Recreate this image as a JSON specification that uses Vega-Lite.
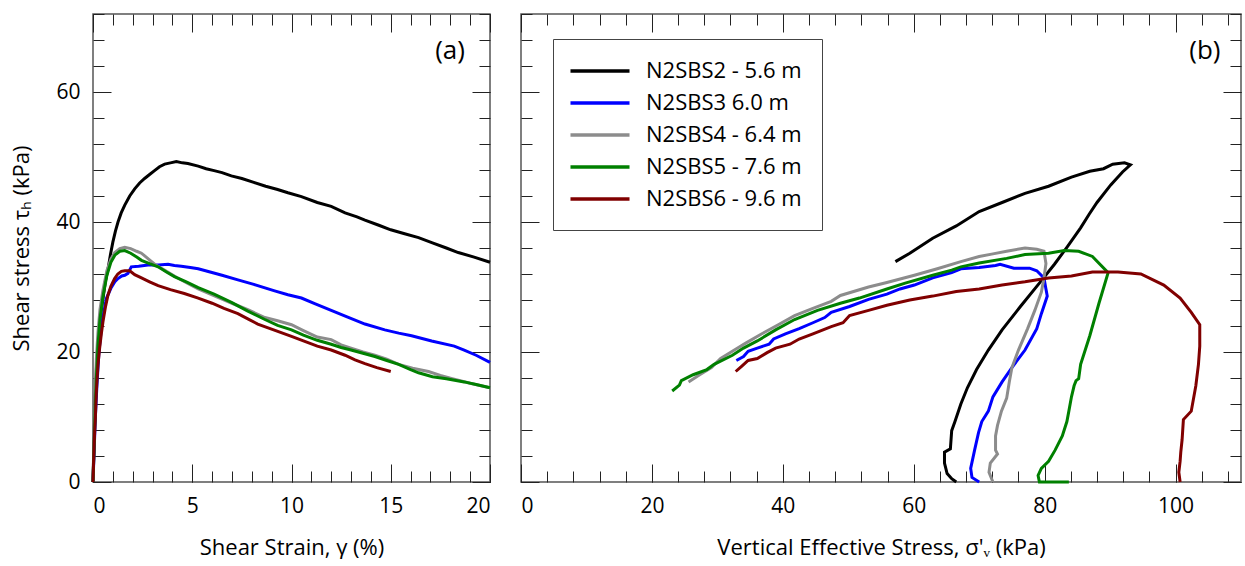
{
"$schema":"https://vega.github.io/schema/vega-lite/v6.json",
"background":"white",
"padding":{"left":10,"top":12,"right":0,"bottom":0},
"bounds":"flush",
"spacing":31,
"config":{
 "font":"Open Sans",
 "view":{"stroke":"#555","strokeWidth":1.5},
 "axis":{"domain":false,"grid":false,"tickColor":"#222","tickWidth":1,"labelFontSize":21,"labelColor":"black","titleFontSize":22,"titleFontWeight":"normal","titleColor":"black","labelFont":"Open Sans","titleFont":"Open Sans"},
 "title":{"fontSize":26,"fontWeight":"normal","font":"Open Sans","color":"black"}
},
"resolve":{"legend":{"color":"independent"}},
"datasets":{
"strain":[
{"s":"N2SBS2 - 5.6 m","i":0,"x":0,"y":0},{"s":"N2SBS2 - 5.6 m","i":1,"x":0.05,"y":6},{"s":"N2SBS2 - 5.6 m","i":2,"x":0.1,"y":12},{"s":"N2SBS2 - 5.6 m","i":3,"x":0.18,"y":18},{"s":"N2SBS2 - 5.6 m","i":4,"x":0.25,"y":21.5},{"s":"N2SBS2 - 5.6 m","i":5,"x":0.35,"y":25},{"s":"N2SBS2 - 5.6 m","i":6,"x":0.5,"y":28.2},{"s":"N2SBS2 - 5.6 m","i":7,"x":0.62,"y":30.8},{"s":"N2SBS2 - 5.6 m","i":8,"x":0.76,"y":32.8},{"s":"N2SBS2 - 5.6 m","i":9,"x":0.88,"y":35},{"s":"N2SBS2 - 5.6 m","i":10,"x":1.0,"y":36.9},{"s":"N2SBS2 - 5.6 m","i":11,"x":1.13,"y":38.6},{"s":"N2SBS2 - 5.6 m","i":12,"x":1.26,"y":40},{"s":"N2SBS2 - 5.6 m","i":13,"x":1.42,"y":41.4},{"s":"N2SBS2 - 5.6 m","i":14,"x":1.6,"y":42.6},{"s":"N2SBS2 - 5.6 m","i":15,"x":1.85,"y":44},{"s":"N2SBS2 - 5.6 m","i":16,"x":2.1,"y":45.1},{"s":"N2SBS2 - 5.6 m","i":17,"x":2.35,"y":46},{"s":"N2SBS2 - 5.6 m","i":18,"x":2.6,"y":46.7},{"s":"N2SBS2 - 5.6 m","i":19,"x":2.85,"y":47.3},{"s":"N2SBS2 - 5.6 m","i":20,"x":3.1,"y":47.9},{"s":"N2SBS2 - 5.6 m","i":21,"x":3.35,"y":48.5},{"s":"N2SBS2 - 5.6 m","i":22,"x":3.61,"y":48.9},{"s":"N2SBS2 - 5.6 m","i":23,"x":3.9,"y":49.1},{"s":"N2SBS2 - 5.6 m","i":24,"x":4.2,"y":49.3},{"s":"N2SBS2 - 5.6 m","i":25,"x":4.5,"y":49.1},{"s":"N2SBS2 - 5.6 m","i":26,"x":4.78,"y":49.0},{"s":"N2SBS2 - 5.6 m","i":27,"x":5.3,"y":48.6},{"s":"N2SBS2 - 5.6 m","i":28,"x":5.7,"y":48.2},{"s":"N2SBS2 - 5.6 m","i":29,"x":6.1,"y":47.9},{"s":"N2SBS2 - 5.6 m","i":30,"x":6.5,"y":47.6},{"s":"N2SBS2 - 5.6 m","i":31,"x":6.97,"y":47.1},{"s":"N2SBS2 - 5.6 m","i":32,"x":7.5,"y":46.7},{"s":"N2SBS2 - 5.6 m","i":33,"x":8.1,"y":46.1},{"s":"N2SBS2 - 5.6 m","i":34,"x":8.7,"y":45.5},{"s":"N2SBS2 - 5.6 m","i":35,"x":9.3,"y":45.0},{"s":"N2SBS2 - 5.6 m","i":36,"x":9.82,"y":44.5},{"s":"N2SBS2 - 5.6 m","i":37,"x":10.5,"y":43.9},{"s":"N2SBS2 - 5.6 m","i":38,"x":11.3,"y":43.0},{"s":"N2SBS2 - 5.6 m","i":39,"x":12.0,"y":42.4},{"s":"N2SBS2 - 5.6 m","i":40,"x":12.7,"y":41.4},{"s":"N2SBS2 - 5.6 m","i":41,"x":13.3,"y":40.8},{"s":"N2SBS2 - 5.6 m","i":42,"x":13.7,"y":40.3},{"s":"N2SBS2 - 5.6 m","i":43,"x":14.4,"y":39.5},{"s":"N2SBS2 - 5.6 m","i":44,"x":15.0,"y":38.8},{"s":"N2SBS2 - 5.6 m","i":45,"x":15.7,"y":38.2},{"s":"N2SBS2 - 5.6 m","i":46,"x":16.4,"y":37.6},{"s":"N2SBS2 - 5.6 m","i":47,"x":17.1,"y":36.8},{"s":"N2SBS2 - 5.6 m","i":48,"x":17.8,"y":36.0},{"s":"N2SBS2 - 5.6 m","i":49,"x":18.4,"y":35.3},{"s":"N2SBS2 - 5.6 m","i":50,"x":19.2,"y":34.6},{"s":"N2SBS2 - 5.6 m","i":51,"x":20,"y":33.8},
{"s":"N2SBS3 6.0 m","i":0,"x":0,"y":0},{"s":"N2SBS3 6.0 m","i":1,"x":0.06,"y":5},{"s":"N2SBS3 6.0 m","i":2,"x":0.12,"y":10},{"s":"N2SBS3 6.0 m","i":3,"x":0.2,"y":15},{"s":"N2SBS3 6.0 m","i":4,"x":0.3,"y":20},{"s":"N2SBS3 6.0 m","i":5,"x":0.45,"y":24.5},{"s":"N2SBS3 6.0 m","i":6,"x":0.67,"y":28.2},{"s":"N2SBS3 6.0 m","i":7,"x":0.9,"y":29.8},{"s":"N2SBS3 6.0 m","i":8,"x":1.1,"y":30.8},{"s":"N2SBS3 6.0 m","i":9,"x":1.26,"y":31.3},{"s":"N2SBS3 6.0 m","i":10,"x":1.45,"y":31.7},{"s":"N2SBS3 6.0 m","i":11,"x":1.6,"y":31.8},{"s":"N2SBS3 6.0 m","i":12,"x":1.76,"y":32.1},{"s":"N2SBS3 6.0 m","i":13,"x":1.93,"y":33.1},{"s":"N2SBS3 6.0 m","i":14,"x":2.3,"y":33.2},{"s":"N2SBS3 6.0 m","i":15,"x":2.77,"y":33.4},{"s":"N2SBS3 6.0 m","i":16,"x":3.3,"y":33.4},{"s":"N2SBS3 6.0 m","i":17,"x":3.78,"y":33.5},{"s":"N2SBS3 6.0 m","i":18,"x":4.1,"y":33.3},{"s":"N2SBS3 6.0 m","i":19,"x":4.45,"y":33.2},{"s":"N2SBS3 6.0 m","i":20,"x":4.9,"y":33.0},{"s":"N2SBS3 6.0 m","i":21,"x":5.3,"y":32.8},{"s":"N2SBS3 6.0 m","i":22,"x":5.9,"y":32.3},{"s":"N2SBS3 6.0 m","i":23,"x":6.5,"y":31.8},{"s":"N2SBS3 6.0 m","i":24,"x":7.3,"y":31.1},{"s":"N2SBS3 6.0 m","i":25,"x":8.1,"y":30.4},{"s":"N2SBS3 6.0 m","i":26,"x":9.15,"y":29.4},{"s":"N2SBS3 6.0 m","i":27,"x":9.82,"y":28.8},{"s":"N2SBS3 6.0 m","i":28,"x":10.5,"y":28.3},{"s":"N2SBS3 6.0 m","i":29,"x":11.2,"y":27.4},{"s":"N2SBS3 6.0 m","i":30,"x":12.0,"y":26.4},{"s":"N2SBS3 6.0 m","i":31,"x":12.8,"y":25.4},{"s":"N2SBS3 6.0 m","i":32,"x":13.7,"y":24.3},{"s":"N2SBS3 6.0 m","i":33,"x":14.7,"y":23.4},{"s":"N2SBS3 6.0 m","i":34,"x":15.4,"y":22.9},{"s":"N2SBS3 6.0 m","i":35,"x":16.05,"y":22.5},{"s":"N2SBS3 6.0 m","i":36,"x":17.06,"y":21.7},{"s":"N2SBS3 6.0 m","i":37,"x":18.2,"y":20.9},{"s":"N2SBS3 6.0 m","i":38,"x":18.7,"y":20.3},{"s":"N2SBS3 6.0 m","i":39,"x":19.3,"y":19.5},{"s":"N2SBS3 6.0 m","i":40,"x":20,"y":18.4},
{"s":"N2SBS4 - 6.4 m","i":0,"x":0,"y":0},{"s":"N2SBS4 - 6.4 m","i":1,"x":0.05,"y":7},{"s":"N2SBS4 - 6.4 m","i":2,"x":0.1,"y":13},{"s":"N2SBS4 - 6.4 m","i":3,"x":0.17,"y":19},{"s":"N2SBS4 - 6.4 m","i":4,"x":0.25,"y":23},{"s":"N2SBS4 - 6.4 m","i":5,"x":0.35,"y":26.5},{"s":"N2SBS4 - 6.4 m","i":6,"x":0.5,"y":29.5},{"s":"N2SBS4 - 6.4 m","i":7,"x":0.7,"y":32.5},{"s":"N2SBS4 - 6.4 m","i":8,"x":0.9,"y":34.3},{"s":"N2SBS4 - 6.4 m","i":9,"x":1.1,"y":35.3},{"s":"N2SBS4 - 6.4 m","i":10,"x":1.35,"y":35.9},{"s":"N2SBS4 - 6.4 m","i":11,"x":1.6,"y":36.1},{"s":"N2SBS4 - 6.4 m","i":12,"x":1.9,"y":35.9},{"s":"N2SBS4 - 6.4 m","i":13,"x":2.2,"y":35.5},{"s":"N2SBS4 - 6.4 m","i":14,"x":2.44,"y":35.2},{"s":"N2SBS4 - 6.4 m","i":15,"x":2.8,"y":34.3},{"s":"N2SBS4 - 6.4 m","i":16,"x":3.2,"y":33.3},{"s":"N2SBS4 - 6.4 m","i":17,"x":3.6,"y":32.6},{"s":"N2SBS4 - 6.4 m","i":18,"x":4.2,"y":31.5},{"s":"N2SBS4 - 6.4 m","i":19,"x":4.8,"y":30.5},{"s":"N2SBS4 - 6.4 m","i":20,"x":5.3,"y":29.7},{"s":"N2SBS4 - 6.4 m","i":21,"x":6.0,"y":28.8},{"s":"N2SBS4 - 6.4 m","i":22,"x":7.0,"y":27.5},{"s":"N2SBS4 - 6.4 m","i":23,"x":7.8,"y":26.5},{"s":"N2SBS4 - 6.4 m","i":24,"x":8.66,"y":25.3},{"s":"N2SBS4 - 6.4 m","i":25,"x":9.3,"y":24.8},{"s":"N2SBS4 - 6.4 m","i":26,"x":10,"y":24.2},{"s":"N2SBS4 - 6.4 m","i":27,"x":10.6,"y":23.3},{"s":"N2SBS4 - 6.4 m","i":28,"x":11.3,"y":22.3},{"s":"N2SBS4 - 6.4 m","i":29,"x":12.0,"y":21.9},{"s":"N2SBS4 - 6.4 m","i":30,"x":12.5,"y":21.1},{"s":"N2SBS4 - 6.4 m","i":31,"x":13.0,"y":20.6},{"s":"N2SBS4 - 6.4 m","i":32,"x":13.6,"y":20.0},{"s":"N2SBS4 - 6.4 m","i":33,"x":14.2,"y":19.5},{"s":"N2SBS4 - 6.4 m","i":34,"x":14.8,"y":18.9},{"s":"N2SBS4 - 6.4 m","i":35,"x":15.4,"y":18.1},{"s":"N2SBS4 - 6.4 m","i":36,"x":16.1,"y":17.5},{"s":"N2SBS4 - 6.4 m","i":37,"x":16.9,"y":17.0},{"s":"N2SBS4 - 6.4 m","i":38,"x":17.5,"y":16.4},{"s":"N2SBS4 - 6.4 m","i":39,"x":18.1,"y":15.9},{"s":"N2SBS4 - 6.4 m","i":40,"x":19,"y":15.2},{"s":"N2SBS4 - 6.4 m","i":41,"x":20,"y":14.5},
{"s":"N2SBS5 - 7.6 m","i":0,"x":0,"y":0},{"s":"N2SBS5 - 7.6 m","i":1,"x":0.04,"y":4},{"s":"N2SBS5 - 7.6 m","i":2,"x":0.08,"y":8},{"s":"N2SBS5 - 7.6 m","i":3,"x":0.12,"y":12},{"s":"N2SBS5 - 7.6 m","i":4,"x":0.17,"y":16},{"s":"N2SBS5 - 7.6 m","i":5,"x":0.25,"y":21},{"s":"N2SBS5 - 7.6 m","i":6,"x":0.35,"y":25},{"s":"N2SBS5 - 7.6 m","i":7,"x":0.5,"y":28.5},{"s":"N2SBS5 - 7.6 m","i":8,"x":0.7,"y":31.8},{"s":"N2SBS5 - 7.6 m","i":9,"x":0.9,"y":33.8},{"s":"N2SBS5 - 7.6 m","i":10,"x":1.1,"y":34.9},{"s":"N2SBS5 - 7.6 m","i":11,"x":1.35,"y":35.5},{"s":"N2SBS5 - 7.6 m","i":12,"x":1.6,"y":35.6},{"s":"N2SBS5 - 7.6 m","i":13,"x":1.9,"y":35.2},{"s":"N2SBS5 - 7.6 m","i":14,"x":2.2,"y":34.6},{"s":"N2SBS5 - 7.6 m","i":15,"x":2.44,"y":34.1},{"s":"N2SBS5 - 7.6 m","i":16,"x":2.85,"y":33.6},{"s":"N2SBS5 - 7.6 m","i":17,"x":3.28,"y":33.1},{"s":"N2SBS5 - 7.6 m","i":18,"x":3.7,"y":32.3},{"s":"N2SBS5 - 7.6 m","i":19,"x":4.1,"y":31.6},{"s":"N2SBS5 - 7.6 m","i":20,"x":4.7,"y":30.8},{"s":"N2SBS5 - 7.6 m","i":21,"x":5.3,"y":29.9},{"s":"N2SBS5 - 7.6 m","i":22,"x":6.1,"y":28.9},{"s":"N2SBS5 - 7.6 m","i":23,"x":7.0,"y":27.6},{"s":"N2SBS5 - 7.6 m","i":24,"x":7.8,"y":26.3},{"s":"N2SBS5 - 7.6 m","i":25,"x":8.66,"y":25.0},{"s":"N2SBS5 - 7.6 m","i":26,"x":9.3,"y":24.1},{"s":"N2SBS5 - 7.6 m","i":27,"x":10,"y":23.4},{"s":"N2SBS5 - 7.6 m","i":28,"x":10.6,"y":22.6},{"s":"N2SBS5 - 7.6 m","i":29,"x":11.3,"y":21.8},{"s":"N2SBS5 - 7.6 m","i":30,"x":12.0,"y":21.2},{"s":"N2SBS5 - 7.6 m","i":31,"x":12.5,"y":20.7},{"s":"N2SBS5 - 7.6 m","i":32,"x":13.0,"y":20.3},{"s":"N2SBS5 - 7.6 m","i":33,"x":13.6,"y":19.8},{"s":"N2SBS5 - 7.6 m","i":34,"x":14.2,"y":19.3},{"s":"N2SBS5 - 7.6 m","i":35,"x":14.8,"y":18.7},{"s":"N2SBS5 - 7.6 m","i":36,"x":15.4,"y":18.1},{"s":"N2SBS5 - 7.6 m","i":37,"x":16.0,"y":17.3},{"s":"N2SBS5 - 7.6 m","i":38,"x":16.4,"y":16.8},{"s":"N2SBS5 - 7.6 m","i":39,"x":17.1,"y":16.2},{"s":"N2SBS5 - 7.6 m","i":40,"x":17.8,"y":15.9},{"s":"N2SBS5 - 7.6 m","i":41,"x":18.7,"y":15.4},{"s":"N2SBS5 - 7.6 m","i":42,"x":19.3,"y":15.0},{"s":"N2SBS5 - 7.6 m","i":43,"x":20,"y":14.5},
{"s":"N2SBS6 - 9.6 m","i":0,"x":0,"y":0},{"s":"N2SBS6 - 9.6 m","i":1,"x":0.06,"y":6},{"s":"N2SBS6 - 9.6 m","i":2,"x":0.12,"y":10},{"s":"N2SBS6 - 9.6 m","i":3,"x":0.17,"y":14},{"s":"N2SBS6 - 9.6 m","i":4,"x":0.25,"y":18},{"s":"N2SBS6 - 9.6 m","i":5,"x":0.33,"y":20.5},{"s":"N2SBS6 - 9.6 m","i":6,"x":0.42,"y":22.8},{"s":"N2SBS6 - 9.6 m","i":7,"x":0.5,"y":24.6},{"s":"N2SBS6 - 9.6 m","i":8,"x":0.62,"y":26.8},{"s":"N2SBS6 - 9.6 m","i":9,"x":0.75,"y":28.7},{"s":"N2SBS6 - 9.6 m","i":10,"x":0.9,"y":30.1},{"s":"N2SBS6 - 9.6 m","i":11,"x":1.09,"y":31.3},{"s":"N2SBS6 - 9.6 m","i":12,"x":1.25,"y":32.0},{"s":"N2SBS6 - 9.6 m","i":13,"x":1.43,"y":32.4},{"s":"N2SBS6 - 9.6 m","i":14,"x":1.6,"y":32.5},{"s":"N2SBS6 - 9.6 m","i":15,"x":1.85,"y":32.5},{"s":"N2SBS6 - 9.6 m","i":16,"x":2.1,"y":31.9},{"s":"N2SBS6 - 9.6 m","i":17,"x":2.44,"y":31.4},{"s":"N2SBS6 - 9.6 m","i":18,"x":2.85,"y":30.8},{"s":"N2SBS6 - 9.6 m","i":19,"x":3.28,"y":30.2},{"s":"N2SBS6 - 9.6 m","i":20,"x":3.9,"y":29.6},{"s":"N2SBS6 - 9.6 m","i":21,"x":4.6,"y":29.0},{"s":"N2SBS6 - 9.6 m","i":22,"x":5.3,"y":28.3},{"s":"N2SBS6 - 9.6 m","i":23,"x":6.0,"y":27.5},{"s":"N2SBS6 - 9.6 m","i":24,"x":6.6,"y":26.7},{"s":"N2SBS6 - 9.6 m","i":25,"x":7.3,"y":25.9},{"s":"N2SBS6 - 9.6 m","i":26,"x":7.8,"y":25.1},{"s":"N2SBS6 - 9.6 m","i":27,"x":8.3,"y":24.3},{"s":"N2SBS6 - 9.6 m","i":28,"x":9.1,"y":23.4},{"s":"N2SBS6 - 9.6 m","i":29,"x":10,"y":22.4},{"s":"N2SBS6 - 9.6 m","i":30,"x":10.6,"y":21.7},{"s":"N2SBS6 - 9.6 m","i":31,"x":11.3,"y":20.9},{"s":"N2SBS6 - 9.6 m","i":32,"x":12.0,"y":20.3},{"s":"N2SBS6 - 9.6 m","i":33,"x":12.7,"y":19.5},{"s":"N2SBS6 - 9.6 m","i":34,"x":13.2,"y":18.8},{"s":"N2SBS6 - 9.6 m","i":35,"x":13.7,"y":18.2},{"s":"N2SBS6 - 9.6 m","i":36,"x":14.3,"y":17.6},{"s":"N2SBS6 - 9.6 m","i":37,"x":15.0,"y":17.0}
],
"path":[
{"s":"N2SBS2 - 5.6 m","i":0,"x":66.5,"y":0},{"s":"N2SBS2 - 5.6 m","i":1,"x":65.8,"y":0.5},{"s":"N2SBS2 - 5.6 m","i":2,"x":65.1,"y":1.3},{"s":"N2SBS2 - 5.6 m","i":3,"x":64.7,"y":2.9},{"s":"N2SBS2 - 5.6 m","i":4,"x":64.7,"y":4.6},{"s":"N2SBS2 - 5.6 m","i":5,"x":65.6,"y":5.1},{"s":"N2SBS2 - 5.6 m","i":6,"x":65.8,"y":7.9},{"s":"N2SBS2 - 5.6 m","i":7,"x":66.3,"y":9.3},{"s":"N2SBS2 - 5.6 m","i":8,"x":67.2,"y":12.0},{"s":"N2SBS2 - 5.6 m","i":9,"x":68.2,"y":14.5},{"s":"N2SBS2 - 5.6 m","i":10,"x":69.6,"y":17.3},{"s":"N2SBS2 - 5.6 m","i":11,"x":71.4,"y":20.3},{"s":"N2SBS2 - 5.6 m","i":12,"x":73.5,"y":23.4},{"s":"N2SBS2 - 5.6 m","i":13,"x":76.3,"y":27.0},{"s":"N2SBS2 - 5.6 m","i":14,"x":79.2,"y":30.6},{"s":"N2SBS2 - 5.6 m","i":15,"x":81.5,"y":33.5},{"s":"N2SBS2 - 5.6 m","i":16,"x":83.4,"y":36.1},{"s":"N2SBS2 - 5.6 m","i":17,"x":85.5,"y":39.1},{"s":"N2SBS2 - 5.6 m","i":18,"x":86.8,"y":41.2},{"s":"N2SBS2 - 5.6 m","i":19,"x":88.0,"y":43.0},{"s":"N2SBS2 - 5.6 m","i":20,"x":90.1,"y":45.7},{"s":"N2SBS2 - 5.6 m","i":21,"x":91.9,"y":47.7},{"s":"N2SBS2 - 5.6 m","i":22,"x":93.1,"y":48.8},{"s":"N2SBS2 - 5.6 m","i":23,"x":92.2,"y":49.1},{"s":"N2SBS2 - 5.6 m","i":24,"x":90.4,"y":48.9},{"s":"N2SBS2 - 5.6 m","i":25,"x":89.0,"y":48.2},{"s":"N2SBS2 - 5.6 m","i":26,"x":86.9,"y":47.8},{"s":"N2SBS2 - 5.6 m","i":27,"x":84.1,"y":46.9},{"s":"N2SBS2 - 5.6 m","i":28,"x":80.6,"y":45.5},{"s":"N2SBS2 - 5.6 m","i":29,"x":77.0,"y":44.4},{"s":"N2SBS2 - 5.6 m","i":30,"x":73.5,"y":43.0},{"s":"N2SBS2 - 5.6 m","i":31,"x":70.0,"y":41.6},{"s":"N2SBS2 - 5.6 m","i":32,"x":66.5,"y":39.4},{"s":"N2SBS2 - 5.6 m","i":33,"x":62.9,"y":37.5},{"s":"N2SBS2 - 5.6 m","i":34,"x":59.4,"y":35.2},{"s":"N2SBS2 - 5.6 m","i":35,"x":57.2,"y":33.9},
{"s":"N2SBS3 6.0 m","i":0,"x":70.0,"y":0},{"s":"N2SBS3 6.0 m","i":1,"x":68.9,"y":0.7},{"s":"N2SBS3 6.0 m","i":2,"x":68.7,"y":2.1},{"s":"N2SBS3 6.0 m","i":3,"x":69.3,"y":4.9},{"s":"N2SBS3 6.0 m","i":4,"x":69.9,"y":7.6},{"s":"N2SBS3 6.0 m","i":5,"x":70.4,"y":9.3},{"s":"N2SBS3 6.0 m","i":6,"x":71.4,"y":10.9},{"s":"N2SBS3 6.0 m","i":7,"x":72.1,"y":13.1},{"s":"N2SBS3 6.0 m","i":8,"x":73.5,"y":15.4},{"s":"N2SBS3 6.0 m","i":9,"x":75.0,"y":17.6},{"s":"N2SBS3 6.0 m","i":10,"x":77.0,"y":20.3},{"s":"N2SBS3 6.0 m","i":11,"x":78.8,"y":23.6},{"s":"N2SBS3 6.0 m","i":12,"x":79.5,"y":25.9},{"s":"N2SBS3 6.0 m","i":13,"x":80.4,"y":28.6},{"s":"N2SBS3 6.0 m","i":14,"x":80.2,"y":29.7},{"s":"N2SBS3 6.0 m","i":15,"x":79.9,"y":31.4},{"s":"N2SBS3 6.0 m","i":16,"x":78.8,"y":32.5},{"s":"N2SBS3 6.0 m","i":17,"x":77.7,"y":32.9},{"s":"N2SBS3 6.0 m","i":18,"x":75.3,"y":32.9},{"s":"N2SBS3 6.0 m","i":19,"x":73.2,"y":33.5},{"s":"N2SBS3 6.0 m","i":20,"x":72.5,"y":33.3},{"s":"N2SBS3 6.0 m","i":21,"x":70.0,"y":33.0},{"s":"N2SBS3 6.0 m","i":22,"x":67.2,"y":32.8},{"s":"N2SBS3 6.0 m","i":23,"x":65.8,"y":32.2},{"s":"N2SBS3 6.0 m","i":24,"x":62.9,"y":31.4},{"s":"N2SBS3 6.0 m","i":25,"x":60.1,"y":30.3},{"s":"N2SBS3 6.0 m","i":26,"x":57.9,"y":29.7},{"s":"N2SBS3 6.0 m","i":27,"x":55.9,"y":28.9},{"s":"N2SBS3 6.0 m","i":28,"x":53.1,"y":28.1},{"s":"N2SBS3 6.0 m","i":29,"x":50.2,"y":27.0},{"s":"N2SBS3 6.0 m","i":30,"x":47.4,"y":26.1},{"s":"N2SBS3 6.0 m","i":31,"x":46.4,"y":25.3},{"s":"N2SBS3 6.0 m","i":32,"x":44.6,"y":24.5},{"s":"N2SBS3 6.0 m","i":33,"x":42.5,"y":23.6},{"s":"N2SBS3 6.0 m","i":34,"x":40.4,"y":22.8},{"s":"N2SBS3 6.0 m","i":35,"x":38.6,"y":22.0},{"s":"N2SBS3 6.0 m","i":36,"x":37.9,"y":21.2},{"s":"N2SBS3 6.0 m","i":37,"x":36.1,"y":20.6},{"s":"N2SBS3 6.0 m","i":38,"x":34.7,"y":20.1},{"s":"N2SBS3 6.0 m","i":39,"x":34.0,"y":19.3},{"s":"N2SBS3 6.0 m","i":40,"x":32.9,"y":18.7},
{"s":"N2SBS4 - 6.4 m","i":0,"x":72.1,"y":0},{"s":"N2SBS4 - 6.4 m","i":1,"x":71.5,"y":1.5},{"s":"N2SBS4 - 6.4 m","i":2,"x":71.7,"y":2.9},{"s":"N2SBS4 - 6.4 m","i":3,"x":72.8,"y":4.3},{"s":"N2SBS4 - 6.4 m","i":4,"x":72.5,"y":4.9},{"s":"N2SBS4 - 6.4 m","i":5,"x":72.5,"y":7.1},{"s":"N2SBS4 - 6.4 m","i":6,"x":72.8,"y":8.7},{"s":"N2SBS4 - 6.4 m","i":7,"x":73.4,"y":10.9},{"s":"N2SBS4 - 6.4 m","i":8,"x":74.2,"y":12.9},{"s":"N2SBS4 - 6.4 m","i":9,"x":74.6,"y":15.4},{"s":"N2SBS4 - 6.4 m","i":10,"x":75.0,"y":17.6},{"s":"N2SBS4 - 6.4 m","i":11,"x":76.0,"y":20.3},{"s":"N2SBS4 - 6.4 m","i":12,"x":77.4,"y":23.6},{"s":"N2SBS4 - 6.4 m","i":13,"x":78.5,"y":26.4},{"s":"N2SBS4 - 6.4 m","i":14,"x":79.5,"y":29.2},{"s":"N2SBS4 - 6.4 m","i":15,"x":79.9,"y":31.4},{"s":"N2SBS4 - 6.4 m","i":16,"x":80.2,"y":33.6},{"s":"N2SBS4 - 6.4 m","i":17,"x":79.9,"y":35.5},{"s":"N2SBS4 - 6.4 m","i":18,"x":78.8,"y":35.8},{"s":"N2SBS4 - 6.4 m","i":19,"x":77.0,"y":36.0},{"s":"N2SBS4 - 6.4 m","i":20,"x":74.2,"y":35.5},{"s":"N2SBS4 - 6.4 m","i":21,"x":72.1,"y":35.1},{"s":"N2SBS4 - 6.4 m","i":22,"x":70.0,"y":34.7},{"s":"N2SBS4 - 6.4 m","i":23,"x":67.2,"y":33.9},{"s":"N2SBS4 - 6.4 m","i":24,"x":63.6,"y":32.8},{"s":"N2SBS4 - 6.4 m","i":25,"x":60.1,"y":31.8},{"s":"N2SBS4 - 6.4 m","i":26,"x":55.9,"y":30.7},{"s":"N2SBS4 - 6.4 m","i":27,"x":53.1,"y":30.0},{"s":"N2SBS4 - 6.4 m","i":28,"x":48.8,"y":28.7},{"s":"N2SBS4 - 6.4 m","i":29,"x":47.4,"y":27.8},{"s":"N2SBS4 - 6.4 m","i":30,"x":44.6,"y":26.7},{"s":"N2SBS4 - 6.4 m","i":31,"x":41.8,"y":25.6},{"s":"N2SBS4 - 6.4 m","i":32,"x":39.3,"y":24.2},{"s":"N2SBS4 - 6.4 m","i":33,"x":36.8,"y":22.8},{"s":"N2SBS4 - 6.4 m","i":34,"x":34.4,"y":21.4},{"s":"N2SBS4 - 6.4 m","i":35,"x":32.6,"y":20.3},{"s":"N2SBS4 - 6.4 m","i":36,"x":30.5,"y":19.0},{"s":"N2SBS4 - 6.4 m","i":37,"x":29.1,"y":17.6},{"s":"N2SBS4 - 6.4 m","i":38,"x":27.3,"y":16.5},{"s":"N2SBS4 - 6.4 m","i":39,"x":25.6,"y":15.4},
{"s":"N2SBS5 - 7.6 m","i":0,"x":83.7,"y":0},{"s":"N2SBS5 - 7.6 m","i":1,"x":79.2,"y":0},{"s":"N2SBS5 - 7.6 m","i":2,"x":79.0,"y":1.0},{"s":"N2SBS5 - 7.6 m","i":3,"x":79.5,"y":2.1},{"s":"N2SBS5 - 7.6 m","i":4,"x":80.6,"y":3.2},{"s":"N2SBS5 - 7.6 m","i":5,"x":81.6,"y":4.9},{"s":"N2SBS5 - 7.6 m","i":6,"x":82.7,"y":7.1},{"s":"N2SBS5 - 7.6 m","i":7,"x":83.4,"y":9.3},{"s":"N2SBS5 - 7.6 m","i":8,"x":83.7,"y":10.9},{"s":"N2SBS5 - 7.6 m","i":9,"x":84.1,"y":13.1},{"s":"N2SBS5 - 7.6 m","i":10,"x":84.5,"y":14.8},{"s":"N2SBS5 - 7.6 m","i":11,"x":84.8,"y":15.6},{"s":"N2SBS5 - 7.6 m","i":12,"x":85.2,"y":15.9},{"s":"N2SBS5 - 7.6 m","i":13,"x":85.5,"y":18.1},{"s":"N2SBS5 - 7.6 m","i":14,"x":86.9,"y":22.5},{"s":"N2SBS5 - 7.6 m","i":15,"x":88.3,"y":27.5},{"s":"N2SBS5 - 7.6 m","i":16,"x":89.7,"y":32.2},{"s":"N2SBS5 - 7.6 m","i":17,"x":87.3,"y":34.7},{"s":"N2SBS5 - 7.6 m","i":18,"x":85.2,"y":35.5},{"s":"N2SBS5 - 7.6 m","i":19,"x":83.0,"y":35.6},{"s":"N2SBS5 - 7.6 m","i":20,"x":80.6,"y":35.2},{"s":"N2SBS5 - 7.6 m","i":21,"x":77.0,"y":35.0},{"s":"N2SBS5 - 7.6 m","i":22,"x":74.2,"y":34.4},{"s":"N2SBS5 - 7.6 m","i":23,"x":70.0,"y":33.7},{"s":"N2SBS5 - 7.6 m","i":24,"x":67.2,"y":33.1},{"s":"N2SBS5 - 7.6 m","i":25,"x":65.8,"y":32.6},{"s":"N2SBS5 - 7.6 m","i":26,"x":62.9,"y":31.8},{"s":"N2SBS5 - 7.6 m","i":27,"x":58.7,"y":30.6},{"s":"N2SBS5 - 7.6 m","i":28,"x":55.9,"y":29.7},{"s":"N2SBS5 - 7.6 m","i":29,"x":51.7,"y":28.3},{"s":"N2SBS5 - 7.6 m","i":30,"x":48.8,"y":27.5},{"s":"N2SBS5 - 7.6 m","i":31,"x":45.3,"y":26.4},{"s":"N2SBS5 - 7.6 m","i":32,"x":41.8,"y":25.0},{"s":"N2SBS5 - 7.6 m","i":33,"x":38.9,"y":23.4},{"s":"N2SBS5 - 7.6 m","i":34,"x":36.1,"y":21.7},{"s":"N2SBS5 - 7.6 m","i":35,"x":34.0,"y":20.6},{"s":"N2SBS5 - 7.6 m","i":36,"x":32.3,"y":19.5},{"s":"N2SBS5 - 7.6 m","i":37,"x":29.5,"y":18.1},{"s":"N2SBS5 - 7.6 m","i":38,"x":28.4,"y":17.3},{"s":"N2SBS5 - 7.6 m","i":39,"x":26.3,"y":16.5},{"s":"N2SBS5 - 7.6 m","i":40,"x":24.5,"y":15.6},{"s":"N2SBS5 - 7.6 m","i":41,"x":24.2,"y":14.9},{"s":"N2SBS5 - 7.6 m","i":42,"x":23.1,"y":14.0},
{"s":"N2SBS6 - 9.6 m","i":0,"x":100.7,"y":0},{"s":"N2SBS6 - 9.6 m","i":1,"x":100.5,"y":1.5},{"s":"N2SBS6 - 9.6 m","i":2,"x":100.7,"y":3.2},{"s":"N2SBS6 - 9.6 m","i":3,"x":100.8,"y":4.6},{"s":"N2SBS6 - 9.6 m","i":4,"x":101.0,"y":6.5},{"s":"N2SBS6 - 9.6 m","i":5,"x":101.2,"y":9.6},{"s":"N2SBS6 - 9.6 m","i":6,"x":102.4,"y":10.9},{"s":"N2SBS6 - 9.6 m","i":7,"x":103.1,"y":14.8},{"s":"N2SBS6 - 9.6 m","i":8,"x":103.5,"y":18.1},{"s":"N2SBS6 - 9.6 m","i":9,"x":103.7,"y":20.9},{"s":"N2SBS6 - 9.6 m","i":10,"x":103.7,"y":24.2},{"s":"N2SBS6 - 9.6 m","i":11,"x":102.4,"y":26.1},{"s":"N2SBS6 - 9.6 m","i":12,"x":100.7,"y":28.3},{"s":"N2SBS6 - 9.6 m","i":13,"x":98.2,"y":30.3},{"s":"N2SBS6 - 9.6 m","i":14,"x":94.7,"y":32.0},{"s":"N2SBS6 - 9.6 m","i":15,"x":91.2,"y":32.3},{"s":"N2SBS6 - 9.6 m","i":16,"x":89.0,"y":32.3},{"s":"N2SBS6 - 9.6 m","i":17,"x":87.3,"y":32.3},{"s":"N2SBS6 - 9.6 m","i":18,"x":84.1,"y":31.7},{"s":"N2SBS6 - 9.6 m","i":19,"x":80.6,"y":31.4},{"s":"N2SBS6 - 9.6 m","i":20,"x":77.0,"y":30.8},{"s":"N2SBS6 - 9.6 m","i":21,"x":73.5,"y":30.3},{"s":"N2SBS6 - 9.6 m","i":22,"x":70.0,"y":29.7},{"s":"N2SBS6 - 9.6 m","i":23,"x":66.5,"y":29.3},{"s":"N2SBS6 - 9.6 m","i":24,"x":62.9,"y":28.6},{"s":"N2SBS6 - 9.6 m","i":25,"x":59.4,"y":28.0},{"s":"N2SBS6 - 9.6 m","i":26,"x":55.9,"y":27.2},{"s":"N2SBS6 - 9.6 m","i":27,"x":53.1,"y":26.4},{"s":"N2SBS6 - 9.6 m","i":28,"x":50.2,"y":25.6},{"s":"N2SBS6 - 9.6 m","i":29,"x":49.2,"y":24.5},{"s":"N2SBS6 - 9.6 m","i":30,"x":47.4,"y":23.9},{"s":"N2SBS6 - 9.6 m","i":31,"x":44.6,"y":22.8},{"s":"N2SBS6 - 9.6 m","i":32,"x":42.5,"y":22.0},{"s":"N2SBS6 - 9.6 m","i":33,"x":41.1,"y":21.2},{"s":"N2SBS6 - 9.6 m","i":34,"x":38.9,"y":20.6},{"s":"N2SBS6 - 9.6 m","i":35,"x":37.6,"y":19.9},{"s":"N2SBS6 - 9.6 m","i":36,"x":36.1,"y":19.0},{"s":"N2SBS6 - 9.6 m","i":37,"x":34.7,"y":18.7},{"s":"N2SBS6 - 9.6 m","i":38,"x":33.7,"y":17.8},{"s":"N2SBS6 - 9.6 m","i":39,"x":32.8,"y":17.0}
]
},
"hconcat":[
{
 "width":397,"height":468,
 "title":{"text":"(a)","anchor":"end","offset":-50,"dx":-31},
 "data":{"name":"strain"},
 "resolve":{"scale":{"x":"independent","y":"independent"}},
 "layer":[
  {"mark":{"type":"line","strokeWidth":3},
   "encoding":{
    "x":{"field":"x","type":"quantitative","scale":{"domain":[0,20],"nice":false,"zero":false},
         "axis":{"orient":"bottom","values":[0,5,10,15,20],"tickSize":-18,"labelPadding":31,"title":"Shear Strain, γ (%)","titlePadding":21}},
    "y":{"field":"y","type":"quantitative","scale":{"domain":[0,72],"nice":false,"zero":false},
         "axis":{"orient":"left","values":[0,20,40,60],"tickSize":-18,"labelPadding":31,"title":"Shear stress τₕ (kPa)","titlePadding":22}},
    "color":{"field":"s","type":"nominal","scale":{"domain":["N2SBS2 - 5.6 m","N2SBS3 6.0 m","N2SBS4 - 6.4 m","N2SBS5 - 7.6 m","N2SBS6 - 9.6 m"],"range":["#000000","#0000ff","#8c8c8c","#008000","#800000"]},"legend":null},
    "order":{"field":"i","type":"quantitative"}
   }},
  {"mark":{"type":"point","opacity":0},
   "encoding":{
    "x":{"field":"x","type":"quantitative","scale":{"domain":[0,20],"nice":false,"zero":false},
         "axis":{"orient":"bottom","values":[0,1,2,3,4,5,6,7,8,9,10,11,12,13,14,15,16,17,18,19,20],"tickSize":-11,"labels":false,"title":null}},
    "y":{"field":"y","type":"quantitative","scale":{"domain":[0,72],"nice":false,"zero":false},
         "axis":{"orient":"left","values":[0,4,8,12,16,20,24,28,32,36,40,44,48,52,56,60,64,68,72],"tickSize":-11,"labels":false,"title":null}}
   }},
  {"mark":{"type":"point","opacity":0},
   "encoding":{
    "x":{"field":"x","type":"quantitative","scale":{"domain":[0,20],"nice":false,"zero":false},
         "axis":{"orient":"top","values":[0,5,10,15,20],"tickSize":-18,"labels":false,"title":null}},
    "y":{"field":"y","type":"quantitative","scale":{"domain":[0,72],"nice":false,"zero":false},
         "axis":{"orient":"right","values":[0,20,40,60],"tickSize":-18,"labels":false,"title":null}}
   }},
  {"mark":{"type":"point","opacity":0},
   "encoding":{
    "x":{"field":"x","type":"quantitative","scale":{"domain":[0,20],"nice":false,"zero":false},
         "axis":{"orient":"top","values":[0,1,2,3,4,5,6,7,8,9,10,11,12,13,14,15,16,17,18,19,20],"tickSize":-11,"labels":false,"title":null}},
    "y":{"field":"y","type":"quantitative","scale":{"domain":[0,72],"nice":false,"zero":false},
         "axis":{"orient":"right","values":[0,4,8,12,16,20,24,28,32,36,40,44,48,52,56,60,64,68,72],"tickSize":-11,"labels":false,"title":null}}
   }}
 ]
},
{
 "width":720,"height":468,
 "title":{"text":"(b)","anchor":"end","offset":-50,"dx":-21},
 "data":{"name":"path"},
 "resolve":{"scale":{"x":"independent","y":"independent"}},
 "layer":[
  {"mark":{"type":"line","strokeWidth":3},
   "encoding":{
    "x":{"field":"x","type":"quantitative","scale":{"domain":[0,110],"nice":false,"zero":false},
         "axis":{"orient":"bottom","values":[0,20,40,60,80,100],"tickSize":-18,"labelPadding":31,"title":"Vertical Effective Stress, σ'ᵥ (kPa)","titlePadding":21}},
    "y":{"field":"y","type":"quantitative","scale":{"domain":[0,72],"nice":false,"zero":false},
         "axis":{"orient":"left","values":[0,20,40,60],"tickSize":-18,"labels":false,"title":null}},
    "color":{"field":"s","type":"nominal","scale":{"domain":["N2SBS2 - 5.6 m","N2SBS3 6.0 m","N2SBS4 - 6.4 m","N2SBS5 - 7.6 m","N2SBS6 - 9.6 m"],"range":["#000000","#0000ff","#8c8c8c","#008000","#800000"]},
      "legend":{"orient":"none","legendX":32,"legendY":25,"title":null,"symbolType":"M-3,0H3","symbolSize":387,"symbolOffset":15,"symbolStrokeWidth":3.5,"labelFontSize":22,"labelFont":"Open Sans","labelColor":"black","strokeColor":"#444","fillColor":"white","padding":20,"rowPadding":9,"labelOffset":34,"labelLimit":400}},
    "order":{"field":"i","type":"quantitative"}
   }},
  {"mark":{"type":"point","opacity":0},
   "encoding":{
    "x":{"field":"x","type":"quantitative","scale":{"domain":[0,110],"nice":false,"zero":false},
         "axis":{"orient":"bottom","values":[0,4,8,12,16,20,24,28,32,36,40,44,48,52,56,60,64,68,72,76,80,84,88,92,96,100,104,108],"tickSize":-11,"labels":false,"title":null}},
    "y":{"field":"y","type":"quantitative","scale":{"domain":[0,72],"nice":false,"zero":false},
         "axis":{"orient":"left","values":[0,4,8,12,16,20,24,28,32,36,40,44,48,52,56,60,64,68,72],"tickSize":-11,"labels":false,"title":null}}
   }},
  {"mark":{"type":"point","opacity":0},
   "encoding":{
    "x":{"field":"x","type":"quantitative","scale":{"domain":[0,110],"nice":false,"zero":false},
         "axis":{"orient":"top","values":[0,20,40,60,80,100],"tickSize":-18,"labels":false,"title":null}},
    "y":{"field":"y","type":"quantitative","scale":{"domain":[0,72],"nice":false,"zero":false},
         "axis":{"orient":"right","values":[0,20,40,60],"tickSize":-18,"labels":false,"title":null}}
   }},
  {"mark":{"type":"point","opacity":0},
   "encoding":{
    "x":{"field":"x","type":"quantitative","scale":{"domain":[0,110],"nice":false,"zero":false},
         "axis":{"orient":"top","values":[0,4,8,12,16,20,24,28,32,36,40,44,48,52,56,60,64,68,72,76,80,84,88,92,96,100,104,108],"tickSize":-11,"labels":false,"title":null}},
    "y":{"field":"y","type":"quantitative","scale":{"domain":[0,72],"nice":false,"zero":false},
         "axis":{"orient":"right","values":[0,4,8,12,16,20,24,28,32,36,40,44,48,52,56,60,64,68,72],"tickSize":-11,"labels":false,"title":null}}
   }}
 ]
}
]
}
